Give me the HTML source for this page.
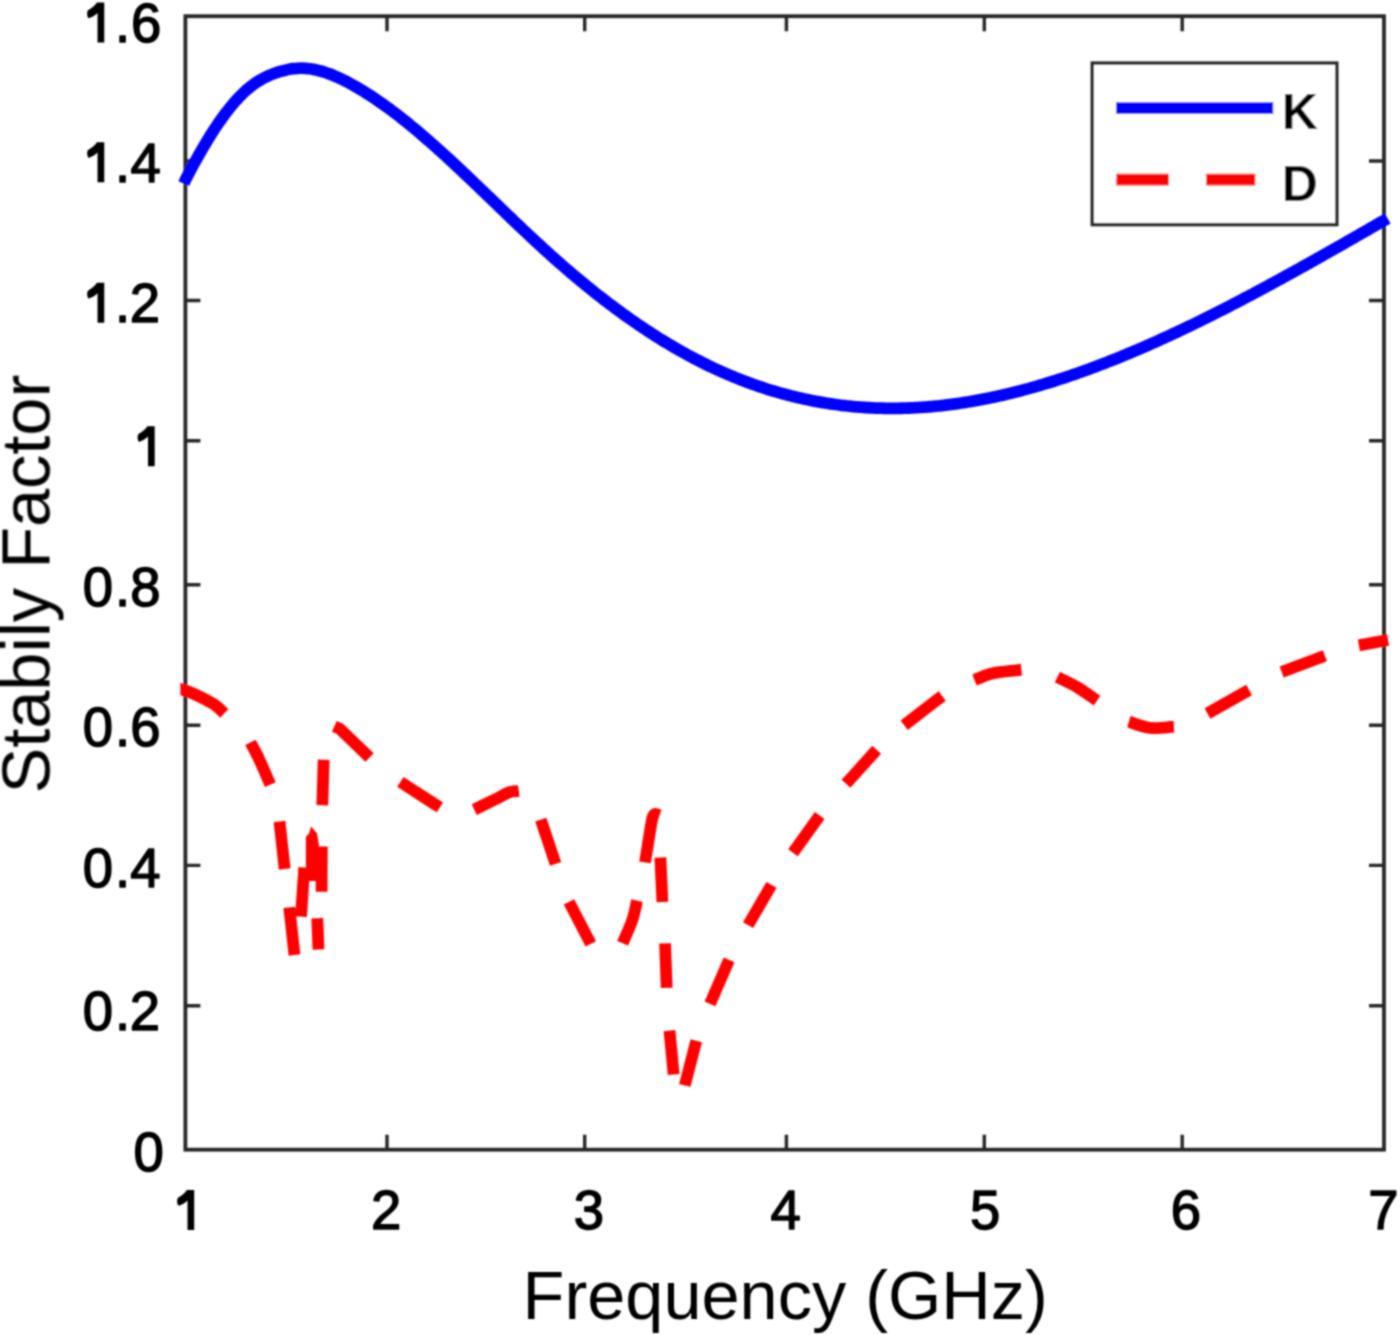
<!DOCTYPE html>
<html><head><meta charset="utf-8"><style>
html,body{margin:0;padding:0;background:#fff;overflow:hidden;}
svg{display:block;}
</style></head><body>
<svg width="1400" height="1335" viewBox="0 0 1400 1335">
<defs><filter id="bl" x="0" y="0" width="1400" height="1335" filterUnits="userSpaceOnUse"><feConvolveMatrix order="5" kernelMatrix="0.00087 0.00695 0.01388 0.00695 0.00087 0.00695 0.05540 0.11068 0.05540 0.00695 0.01388 0.11068 0.22111 0.11068 0.01388 0.00695 0.05540 0.11068 0.05540 0.00695 0.00087 0.00695 0.01388 0.00695 0.00087" edgeMode="duplicate"/></filter></defs>
<rect width="1400" height="1335" fill="#fff"/>
<g filter="url(#bl)">
<rect x="185.4" y="16.2" width="1198.60" height="1133.50" fill="none" stroke="#262626" stroke-width="3.8"/>
<path d="M387.0 1149.7V1134.7M387.0 16.2V31.2M584.7 1149.7V1134.7M584.7 16.2V31.2M786.4 1149.7V1134.7M786.4 16.2V31.2M984.3 1149.7V1134.7M984.3 16.2V31.2M1182.2 1149.7V1134.7M1182.2 16.2V31.2M185.4 1005.7H200.4M1384.0 1005.7H1369.0M185.4 865.4H200.4M1384.0 865.4H1369.0M185.4 725.2H200.4M1384.0 725.2H1369.0M185.4 584.8H200.4M1384.0 584.8H1369.0M185.4 440.7H200.4M1384.0 440.7H1369.0M185.4 300.5H200.4M1384.0 300.5H1369.0M185.4 161.0H200.4M1384.0 161.0H1369.0" stroke="#262626" stroke-width="3.4" fill="none"/>
<path d="M183.90 183.60 C184.15 182.99 184.48 181.85 185.40 179.97 C186.32 178.08 188.07 174.82 189.40 172.30 C190.73 169.77 192.07 167.28 193.40 164.82 C194.73 162.37 196.07 159.94 197.40 157.56 C198.73 155.17 200.07 152.82 201.40 150.51 C202.73 148.20 204.07 145.92 205.40 143.69 C206.73 141.46 208.07 139.27 209.40 137.12 C210.73 134.97 212.07 132.86 213.40 130.80 C214.73 128.74 216.07 126.72 217.40 124.75 C218.73 122.78 220.07 120.86 221.40 118.99 C222.73 117.11 224.07 115.29 225.40 113.51 C226.73 111.74 228.07 110.02 229.40 108.35 C230.73 106.68 232.07 105.06 233.40 103.50 C234.73 101.94 236.07 100.43 237.40 98.99 C238.73 97.54 240.07 96.15 241.40 94.82 C242.73 93.49 244.07 92.21 245.40 91.00 C246.73 89.79 248.07 88.64 249.40 87.56 C250.73 86.47 252.07 85.45 253.40 84.49 C254.73 83.53 256.07 82.63 257.40 81.78 C258.73 80.93 260.07 80.14 261.40 79.39 C262.73 78.64 264.07 77.95 265.40 77.29 C266.73 76.63 268.07 76.03 269.40 75.45 C270.73 74.87 272.07 74.34 273.40 73.83 C274.73 73.33 276.07 72.85 277.40 72.41 C278.73 71.97 280.07 71.55 281.40 71.17 C282.73 70.79 284.07 70.44 285.40 70.13 C286.73 69.82 288.07 69.55 289.40 69.31 C290.73 69.07 292.07 68.87 293.40 68.70 C294.73 68.54 296.07 68.42 297.40 68.34 C298.73 68.26 300.07 68.22 301.40 68.22 C302.73 68.23 304.07 68.28 305.40 68.36 C306.73 68.45 308.07 68.58 309.40 68.75 C310.73 68.92 312.07 69.12 313.40 69.37 C314.73 69.61 316.07 69.89 317.40 70.20 C318.73 70.52 320.07 70.87 321.40 71.25 C322.73 71.62 324.07 72.04 325.40 72.48 C326.73 72.92 328.07 73.39 329.40 73.89 C330.73 74.39 332.07 74.91 333.40 75.46 C334.73 76.01 336.07 76.59 337.40 77.19 C338.73 77.79 340.07 78.41 341.40 79.05 C342.73 79.69 344.07 80.36 345.40 81.04 C346.73 81.72 348.07 82.42 349.40 83.13 C350.73 83.85 352.07 84.58 353.40 85.32 C354.73 86.07 356.07 86.83 357.40 87.61 C358.73 88.38 360.07 89.17 361.40 89.98 C362.73 90.78 364.07 91.60 365.40 92.44 C366.73 93.27 368.07 94.12 369.40 94.98 C370.73 95.84 372.07 96.72 373.40 97.60 C374.73 98.49 376.07 99.39 377.40 100.31 C378.73 101.22 380.07 102.15 381.40 103.09 C382.73 104.02 384.07 104.98 385.40 105.94 C386.73 106.90 388.07 107.88 389.40 108.86 C390.73 109.85 392.07 110.84 393.40 111.85 C394.73 112.86 396.07 113.88 397.40 114.91 C398.73 115.94 400.07 116.98 401.40 118.03 C402.73 119.08 404.07 120.14 405.40 121.21 C406.73 122.28 408.07 123.36 409.40 124.45 C410.73 125.54 412.07 126.63 413.40 127.74 C414.73 128.85 416.07 129.96 417.40 131.09 C418.73 132.21 420.07 133.34 421.40 134.48 C422.73 135.62 424.07 136.77 425.40 137.93 C426.73 139.08 428.07 140.25 429.40 141.42 C430.73 142.58 432.07 143.76 433.40 144.95 C434.73 146.13 436.07 147.32 437.40 148.52 C438.73 149.71 440.07 150.91 441.40 152.12 C442.73 153.33 444.07 154.55 445.40 155.76 C446.73 156.98 448.07 158.21 449.40 159.44 C450.73 160.67 452.07 161.90 453.40 163.14 C454.73 164.38 456.07 165.62 457.40 166.87 C458.73 168.12 460.07 169.37 461.40 170.62 C462.73 171.88 464.07 173.14 465.40 174.40 C466.73 175.66 468.07 176.92 469.40 178.19 C470.73 179.46 472.07 180.73 473.40 182.00 C474.73 183.27 476.07 184.55 477.40 185.82 C478.73 187.10 480.07 188.38 481.40 189.66 C482.73 190.94 484.07 192.22 485.40 193.50 C486.73 194.78 488.07 196.06 489.40 197.35 C490.73 198.63 492.07 199.91 493.40 201.20 C494.73 202.48 496.07 203.77 497.40 205.05 C498.73 206.33 500.07 207.62 501.40 208.90 C502.73 210.18 504.07 211.46 505.40 212.74 C506.73 214.02 508.07 215.30 509.40 216.58 C510.73 217.86 512.07 219.14 513.40 220.41 C514.73 221.68 516.07 222.96 517.40 224.22 C518.73 225.49 520.07 226.76 521.40 228.03 C522.73 229.29 524.07 230.55 525.40 231.81 C526.73 233.07 528.07 234.32 529.40 235.57 C530.73 236.82 532.07 238.07 533.40 239.31 C534.73 240.55 536.07 241.79 537.40 243.02 C538.73 244.26 540.07 245.49 541.40 246.71 C542.73 247.93 544.07 249.15 545.40 250.37 C546.73 251.58 548.07 252.79 549.40 253.99 C550.73 255.19 552.07 256.38 553.40 257.57 C554.73 258.76 556.07 259.95 557.40 261.12 C558.73 262.30 560.07 263.47 561.40 264.64 C562.73 265.80 564.07 266.96 565.40 268.11 C566.73 269.27 568.07 270.41 569.40 271.55 C570.73 272.69 572.07 273.82 573.40 274.95 C574.73 276.08 576.07 277.20 577.40 278.31 C578.73 279.43 580.07 280.54 581.40 281.64 C582.73 282.74 584.07 283.84 585.40 284.93 C586.73 286.01 588.07 287.10 589.40 288.17 C590.73 289.25 592.07 290.32 593.40 291.38 C594.73 292.44 596.07 293.50 597.40 294.55 C598.73 295.60 600.07 296.64 601.40 297.68 C602.73 298.71 604.07 299.74 605.40 300.77 C606.73 301.79 608.07 302.81 609.40 303.82 C610.73 304.82 612.07 305.83 613.40 306.82 C614.73 307.82 616.07 308.81 617.40 309.79 C618.73 310.77 620.07 311.75 621.40 312.72 C622.73 313.68 624.07 314.65 625.40 315.60 C626.73 316.55 628.07 317.50 629.40 318.44 C630.73 319.38 632.07 320.32 633.40 321.24 C634.73 322.17 636.07 323.09 637.40 324.00 C638.73 324.91 640.07 325.82 641.40 326.72 C642.73 327.61 644.07 328.51 645.40 329.39 C646.73 330.27 648.07 331.15 649.40 332.02 C650.73 332.89 652.07 333.75 653.40 334.60 C654.73 335.46 656.07 336.31 657.40 337.15 C658.73 337.99 660.07 338.82 661.40 339.64 C662.73 340.47 664.07 341.29 665.40 342.10 C666.73 342.91 668.07 343.71 669.40 344.51 C670.73 345.30 672.07 346.09 673.40 346.87 C674.73 347.65 676.07 348.42 677.40 349.19 C678.73 349.95 680.07 350.71 681.40 351.46 C682.73 352.21 684.07 352.95 685.40 353.69 C686.73 354.42 688.07 355.15 689.40 355.87 C690.73 356.59 692.07 357.30 693.40 358.00 C694.73 358.71 696.07 359.40 697.40 360.09 C698.73 360.78 700.07 361.46 701.40 362.13 C702.73 362.80 704.07 363.47 705.40 364.12 C706.73 364.78 708.07 365.43 709.40 366.07 C710.73 366.71 712.07 367.34 713.40 367.97 C714.73 368.59 716.07 369.21 717.40 369.82 C718.73 370.43 720.07 371.03 721.40 371.63 C722.73 372.22 724.07 372.81 725.40 373.39 C726.73 373.97 728.07 374.54 729.40 375.10 C730.73 375.67 732.07 376.22 733.40 376.77 C734.73 377.32 736.07 377.86 737.40 378.40 C738.73 378.93 740.07 379.46 741.40 379.98 C742.73 380.49 744.07 381.00 745.40 381.51 C746.73 382.01 748.07 382.51 749.40 383.00 C750.73 383.48 752.07 383.97 753.40 384.44 C754.73 384.91 756.07 385.38 757.40 385.84 C758.73 386.30 760.07 386.75 761.40 387.19 C762.73 387.64 764.07 388.07 765.40 388.50 C766.73 388.93 768.07 389.35 769.40 389.77 C770.73 390.18 772.07 390.59 773.40 390.99 C774.73 391.39 776.07 391.79 777.40 392.17 C778.73 392.56 780.07 392.94 781.40 393.31 C782.73 393.68 784.07 394.04 785.40 394.40 C786.73 394.76 788.07 395.11 789.40 395.45 C790.73 395.79 792.07 396.13 793.40 396.46 C794.73 396.79 796.07 397.11 797.40 397.42 C798.73 397.74 800.07 398.04 801.40 398.34 C802.73 398.64 804.07 398.94 805.40 399.22 C806.73 399.51 808.07 399.79 809.40 400.06 C810.73 400.33 812.07 400.60 813.40 400.86 C814.73 401.12 816.07 401.37 817.40 401.61 C818.73 401.86 820.07 402.10 821.40 402.33 C822.73 402.56 824.07 402.78 825.40 403.00 C826.73 403.22 828.07 403.43 829.40 403.63 C830.73 403.84 832.07 404.03 833.40 404.22 C834.73 404.41 836.07 404.60 837.40 404.77 C838.73 404.95 840.07 405.12 841.40 405.28 C842.73 405.45 844.07 405.60 845.40 405.75 C846.73 405.90 848.07 406.05 849.40 406.18 C850.73 406.32 852.07 406.45 853.40 406.58 C854.73 406.70 856.07 406.82 857.40 406.93 C858.73 407.04 860.07 407.14 861.40 407.24 C862.73 407.34 864.07 407.43 865.40 407.51 C866.73 407.60 868.07 407.67 869.40 407.75 C870.73 407.82 872.07 407.88 873.40 407.94 C874.73 408.00 876.07 408.05 877.40 408.10 C878.73 408.14 880.07 408.18 881.40 408.22 C882.73 408.25 884.07 408.28 885.40 408.30 C886.73 408.32 888.07 408.33 889.40 408.34 C890.73 408.35 892.07 408.35 893.40 408.35 C894.73 408.34 896.07 408.33 897.40 408.31 C898.73 408.30 900.07 408.27 901.40 408.24 C902.73 408.21 904.07 408.18 905.40 408.14 C906.73 408.10 908.07 408.05 909.40 407.99 C910.73 407.94 912.07 407.88 913.40 407.82 C914.73 407.75 916.07 407.68 917.40 407.60 C918.73 407.52 920.07 407.44 921.40 407.35 C922.73 407.26 924.07 407.17 925.40 407.07 C926.73 406.97 928.07 406.86 929.40 406.75 C930.73 406.63 932.07 406.52 933.40 406.39 C934.73 406.27 936.07 406.14 937.40 406.00 C938.73 405.87 940.07 405.73 941.40 405.58 C942.73 405.43 944.07 405.28 945.40 405.12 C946.73 404.97 948.07 404.80 949.40 404.64 C950.73 404.47 952.07 404.29 953.40 404.11 C954.73 403.93 956.07 403.75 957.40 403.56 C958.73 403.37 960.07 403.17 961.40 402.97 C962.73 402.77 964.07 402.56 965.40 402.35 C966.73 402.14 968.07 401.92 969.40 401.70 C970.73 401.48 972.07 401.25 973.40 401.02 C974.73 400.78 976.07 400.55 977.40 400.30 C978.73 400.06 980.07 399.81 981.40 399.56 C982.73 399.30 984.07 399.05 985.40 398.78 C986.73 398.52 988.07 398.25 989.40 397.98 C990.73 397.70 992.07 397.43 993.40 397.14 C994.73 396.86 996.07 396.57 997.40 396.28 C998.73 395.99 1000.07 395.69 1001.40 395.38 C1002.73 395.08 1004.07 394.77 1005.40 394.46 C1006.73 394.15 1008.07 393.83 1009.40 393.51 C1010.73 393.19 1012.07 392.86 1013.40 392.53 C1014.73 392.20 1016.07 391.86 1017.40 391.52 C1018.73 391.18 1020.07 390.84 1021.40 390.49 C1022.73 390.14 1024.07 389.78 1025.40 389.42 C1026.73 389.07 1028.07 388.70 1029.40 388.34 C1030.73 387.97 1032.07 387.60 1033.40 387.22 C1034.73 386.84 1036.07 386.46 1037.40 386.08 C1038.73 385.69 1040.07 385.30 1041.40 384.91 C1042.73 384.51 1044.07 384.12 1045.40 383.71 C1046.73 383.31 1048.07 382.90 1049.40 382.49 C1050.73 382.08 1052.07 381.67 1053.40 381.25 C1054.73 380.83 1056.07 380.40 1057.40 379.98 C1058.73 379.55 1060.07 379.12 1061.40 378.68 C1062.73 378.25 1064.07 377.81 1065.40 377.36 C1066.73 376.92 1068.07 376.47 1069.40 376.02 C1070.73 375.57 1072.07 375.11 1073.40 374.65 C1074.73 374.19 1076.07 373.73 1077.40 373.26 C1078.73 372.80 1080.07 372.33 1081.40 371.85 C1082.73 371.38 1084.07 370.90 1085.40 370.42 C1086.73 369.93 1088.07 369.45 1089.40 368.96 C1090.73 368.47 1092.07 367.98 1093.40 367.48 C1094.73 366.98 1096.07 366.48 1097.40 365.98 C1098.73 365.47 1100.07 364.97 1101.40 364.45 C1102.73 363.94 1104.07 363.43 1105.40 362.91 C1106.73 362.39 1108.07 361.87 1109.40 361.35 C1110.73 360.82 1112.07 360.29 1113.40 359.76 C1114.73 359.23 1116.07 358.69 1117.40 358.16 C1118.73 357.62 1120.07 357.08 1121.40 356.53 C1122.73 355.99 1124.07 355.44 1125.40 354.89 C1126.73 354.33 1128.07 353.78 1129.40 353.22 C1130.73 352.66 1132.07 352.10 1133.40 351.54 C1134.73 350.97 1136.07 350.41 1137.40 349.84 C1138.73 349.26 1140.07 348.69 1141.40 348.11 C1142.73 347.54 1144.07 346.96 1145.40 346.38 C1146.73 345.79 1148.07 345.21 1149.40 344.62 C1150.73 344.03 1152.07 343.44 1153.40 342.84 C1154.73 342.25 1156.07 341.65 1157.40 341.05 C1158.73 340.45 1160.07 339.85 1161.40 339.24 C1162.73 338.64 1164.07 338.03 1165.40 337.42 C1166.73 336.81 1168.07 336.19 1169.40 335.58 C1170.73 334.96 1172.07 334.34 1173.40 333.72 C1174.73 333.10 1176.07 332.47 1177.40 331.84 C1178.73 331.22 1180.07 330.59 1181.40 329.95 C1182.73 329.32 1184.07 328.69 1185.40 328.05 C1186.73 327.41 1188.07 326.77 1189.40 326.13 C1190.73 325.49 1192.07 324.84 1193.40 324.19 C1194.73 323.55 1196.07 322.90 1197.40 322.24 C1198.73 321.59 1200.07 320.94 1201.40 320.28 C1202.73 319.62 1204.07 318.97 1205.40 318.30 C1206.73 317.64 1208.07 316.98 1209.40 316.31 C1210.73 315.65 1212.07 314.98 1213.40 314.31 C1214.73 313.64 1216.07 312.97 1217.40 312.29 C1218.73 311.62 1220.07 310.94 1221.40 310.26 C1222.73 309.58 1224.07 308.90 1225.40 308.22 C1226.73 307.54 1228.07 306.85 1229.40 306.17 C1230.73 305.48 1232.07 304.79 1233.40 304.10 C1234.73 303.41 1236.07 302.72 1237.40 302.02 C1238.73 301.33 1240.07 300.63 1241.40 299.93 C1242.73 299.24 1244.07 298.54 1245.40 297.83 C1246.73 297.13 1248.07 296.43 1249.40 295.72 C1250.73 295.02 1252.07 294.31 1253.40 293.60 C1254.73 292.89 1256.07 292.18 1257.40 291.47 C1258.73 290.76 1260.07 290.05 1261.40 289.33 C1262.73 288.62 1264.07 287.90 1265.40 287.18 C1266.73 286.46 1268.07 285.74 1269.40 285.02 C1270.73 284.30 1272.07 283.58 1273.40 282.85 C1274.73 282.13 1276.07 281.40 1277.40 280.68 C1278.73 279.95 1280.07 279.22 1281.40 278.49 C1282.73 277.76 1284.07 277.03 1285.40 276.30 C1286.73 275.56 1288.07 274.83 1289.40 274.09 C1290.73 273.36 1292.07 272.62 1293.40 271.89 C1294.73 271.15 1296.07 270.41 1297.40 269.67 C1298.73 268.93 1300.07 268.19 1301.40 267.45 C1302.73 266.70 1304.07 265.96 1305.40 265.22 C1306.73 264.47 1308.07 263.73 1309.40 262.98 C1310.73 262.24 1312.07 261.49 1313.40 260.74 C1314.73 259.99 1316.07 259.24 1317.40 258.49 C1318.73 257.74 1320.07 256.99 1321.40 256.24 C1322.73 255.49 1324.07 254.73 1325.40 253.98 C1326.73 253.23 1328.07 252.47 1329.40 251.72 C1330.73 250.96 1332.07 250.21 1333.40 249.45 C1334.73 248.69 1336.07 247.94 1337.40 247.18 C1338.73 246.42 1340.07 245.66 1341.40 244.90 C1342.73 244.14 1344.07 243.38 1345.40 242.62 C1346.73 241.86 1348.07 241.10 1349.40 240.34 C1350.73 239.58 1352.07 238.81 1353.40 238.05 C1354.73 237.29 1356.07 236.53 1357.40 235.76 C1358.73 235.00 1360.07 234.24 1361.40 233.47 C1362.73 232.71 1364.07 231.94 1365.40 231.18 C1366.73 230.41 1368.07 229.65 1369.40 228.88 C1370.73 228.12 1372.07 227.35 1373.40 226.58 C1374.73 225.82 1376.07 225.05 1377.40 224.28 C1378.73 223.52 1380.30 222.62 1381.40 221.98 C1382.50 221.35 1382.97 221.09 1384.00 220.49 C1385.03 219.89 1387.00 218.75 1387.60 218.40" fill="none" stroke="#0000ff" stroke-width="11.8" stroke-linecap="butt" stroke-linejoin="round"/>
<clipPath id="c1"><rect x="180.4" y="600" width="200" height="200"/></clipPath>
<path clip-path="url(#c1)" d="M176.50 688.10 C177.15 688.27 178.03 688.37 180.40 689.10 C182.77 689.83 186.60 690.80 190.70 692.50 C194.80 694.20 200.68 697.02 205.00 699.30 C209.32 701.58 213.40 703.83 216.60 706.20 C219.80 708.57 222.93 712.28 224.20 713.50" fill="none" stroke="#ff0000" stroke-width="11.8" stroke-linecap="butt" stroke-linejoin="round"/>
<path d="M250.50 742.40 C252.00 745.32 256.20 752.87 259.50 759.90 C262.80 766.93 268.50 780.48 270.30 784.60M279.50 821.50 L284.70 869.00M289.30 907.30 L294.50 955.00M301.00 916.70 L304.30 867.50M317.30 918.30 L318.50 949.40M321.60 891.70 L321.80 846.50M322.30 805.30 L323.70 759.70M334.30 726.30 L339.50 728.60 L369.60 757.60M400.40 781.90 C403.32 783.80 411.32 789.05 417.90 793.30 C424.48 797.55 436.23 805.05 439.90 807.40M474.30 809.60 C477.82 807.88 489.63 802.17 495.40 799.30 C501.17 796.43 505.00 793.78 508.90 792.40 C512.80 791.02 517.15 791.23 518.80 791.00M540.80 819.60 L555.60 863.80M569.00 901.90 L590.80 943.90M622.60 943.30 C624.23 939.40 630.00 927.00 632.40 919.90 C634.80 912.80 636.23 903.90 637.00 900.70M645.00 862.40 C645.72 858.00 648.08 843.32 649.30 836.00 C650.52 828.68 651.35 822.17 652.30 818.50 C653.25 814.83 653.80 814.50 655.00 814.00 C656.20 813.50 658.75 815.25 659.50 815.50M660.40 857.60 L662.40 901.90M665.10 943.40 L666.70 987.90M669.50 1030.60 L673.70 1074.50M684.80 1085.40 L696.30 1040.80M710.00 1003.90 L729.10 959.90M748.10 925.10 L771.50 884.90M793.00 852.80 L819.70 815.50M846.00 783.80 L876.70 749.80M904.20 725.20 L942.20 696.00M974.50 680.00 C977.08 679.00 984.92 675.42 990.00 674.00 C995.08 672.58 999.77 672.22 1005.00 671.50 C1010.23 670.78 1018.67 670.00 1021.40 669.70M1057.40 677.10 C1060.68 678.77 1070.48 683.17 1077.10 687.10 C1083.72 691.03 1093.77 698.43 1097.10 700.70M1128.90 721.70 C1132.42 722.73 1142.50 727.07 1150.00 727.90 C1157.50 728.73 1169.92 726.90 1173.90 726.70M1207.50 713.50 L1249.10 690.00M1281.70 672.00 L1324.90 655.70M1358.90 645.40 L1388.00 640.00" fill="none" stroke="#ff0000" stroke-width="11.8" stroke-linecap="butt" stroke-linejoin="round"/>
<path d="M305.9 881.1L305.9 836.8L309.2 833.2L311 826.6L317 833.2L318.8 844L318.8 881.1Z" fill="#ff0000"/>
<g font-family="&quot;Liberation Sans&quot;, sans-serif" font-size="54.5" fill="#000" stroke="#000" stroke-width="1.4" stroke-linejoin="round"><text transform="translate(115.07 41.80) scale(1 1.035)">.</text><text transform="translate(130.91 41.80) scale(1 1.035)">6</text><text transform="translate(115.07 181.50) scale(1 1.035)">.</text><text transform="translate(130.46 181.50) scale(1 1.035)">4</text><text transform="translate(115.07 322.10) scale(1 1.035)">.</text><text transform="translate(129.80 322.10) scale(1 1.035)">2</text><text transform="translate(82.70 606.20) scale(1 1.035)">0</text><text transform="translate(115.07 606.20) scale(1 1.035)">.</text><text transform="translate(130.25 606.20) scale(1 1.035)">8</text><text transform="translate(82.70 746.20) scale(1 1.035)">0</text><text transform="translate(115.07 746.20) scale(1 1.035)">.</text><text transform="translate(130.31 746.20) scale(1 1.035)">6</text><text transform="translate(82.70 886.60) scale(1 1.035)">0</text><text transform="translate(115.07 886.60) scale(1 1.035)">.</text><text transform="translate(130.21 886.60) scale(1 1.035)">4</text><text transform="translate(82.70 1030.30) scale(1 1.035)">0</text><text transform="translate(115.07 1030.30) scale(1 1.035)">.</text><text transform="translate(129.80 1030.30) scale(1 1.035)">2</text><text transform="translate(133.60 1170.70) scale(1 1.035)">0</text><text transform="translate(370.95 1229.30) scale(1 1.035)">2</text><text transform="translate(573.81 1229.30) scale(1 1.035)">3</text><text transform="translate(770.61 1229.30) scale(1 1.035)">4</text><text transform="translate(970.00 1229.30) scale(1 1.035)">5</text><text transform="translate(1170.76 1229.30) scale(1 1.035)">6</text><text transform="translate(1368.22 1229.30) scale(1 1.035)">7</text></g>
<g fill="#000"><path d="M97.55 42.50L104.25 42.50L104.25 2.50L96.95 2.50C94.95 5.70 91.75 8.10 88.35 10.10C86.75 11.30 86.65 17.10 88.85 18.20C92.15 17.10 94.95 15.30 97.55 12.90Z"/><path d="M97.55 182.20L104.25 182.20L104.25 142.20L96.95 142.20C94.95 145.40 91.75 147.80 88.35 149.80C86.75 151.00 86.65 156.80 88.85 157.90C92.15 156.80 94.95 155.00 97.55 152.60Z"/><path d="M97.55 322.80L104.25 322.80L104.25 282.80L96.95 282.80C94.95 286.00 91.75 288.40 88.35 290.40C86.75 291.60 86.65 297.40 88.85 298.50C92.15 297.40 94.95 295.60 97.55 293.20Z"/><path d="M148.00 466.20L154.70 466.20L154.70 426.20L147.40 426.20C145.40 429.40 142.20 431.80 138.80 433.80C137.20 435.00 137.10 440.80 139.30 441.90C142.60 440.80 145.40 439.00 148.00 436.60Z"/><path d="M187.50 1230.00L194.20 1230.00L194.20 1190.00L186.90 1190.00C184.90 1193.20 181.70 1195.60 178.30 1197.60C176.70 1198.80 176.60 1204.60 178.80 1205.70C182.10 1204.60 184.90 1202.80 187.50 1200.40Z"/></g>
<text x="522.58" y="1318.8" font-family="&quot;Liberation Sans&quot;, sans-serif" font-size="68.5" fill="#000">Frequency (GHz)</text>
<text transform="translate(49.5 793.45) rotate(-90)" x="0" y="0" font-family="&quot;Liberation Sans&quot;, sans-serif" font-size="68.5" fill="#000">Stabily Factor</text>
<rect x="1092.3" y="63.1" width="244.5" height="161.5" fill="#fff" stroke="#262626" stroke-width="3.4"/>
<path d="M1116 108.2H1273.2" stroke="#0000ff" stroke-width="11.8"/>
<path d="M1116.3 179.6H1168.8M1206.2 179.6H1255.3" stroke="#ff0000" stroke-width="11.8"/>
<g font-family="&quot;Liberation Sans&quot;, sans-serif" font-weight="bold" font-size="50" fill="#000"><text x="1281.65" y="128.9">K</text><text x="1281.65" y="200.8">D</text></g>
</g>
</svg>
</body></html>
